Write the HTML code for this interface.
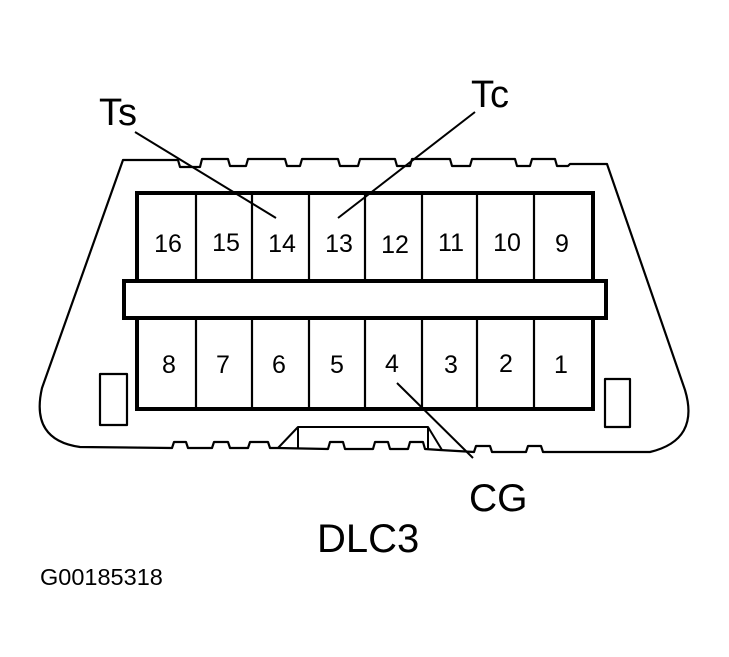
<!DOCTYPE html>
<html><head><style>
html,body{margin:0;padding:0;background:#fff;}
svg{display:block;}
text{font-family:"Liberation Sans",Arial,sans-serif;fill:#000;}
</style></head><body>
<svg width="729" height="657" viewBox="0 0 729 657" xmlns="http://www.w3.org/2000/svg">
<g fill="none" stroke="#000" stroke-width="2.2" stroke-linejoin="round">
<path d="M123,160 L178,160 L180,167 L200,167 L202,159 L228,159 L230,166 L246,166 L248,159 L285,159 L287,166 L300,166 L302,159 L338,159 L340,166 L358,166 L360,159 L395,159 L397,166 L410,166 L412,159 L450,159 L452,166 L470,166 L472,159 L515,159 L517,166 L530,166 L532,159 L555,159 L557,166 L568,166 L570,164 L607,164
 L685,390 Q700,440 650,452 L543,452 L541,446 L528,446 L526,452 L492,452 L490,446 L476,446 L474,452 L440,450 L425,449 L423,442 L410,442 L408,449 L390,449 L388,442 L375,442 L373,449 L345,449 L343,442 L330,442 L328,449 L278,448 L270,448 L268,442 L250,442 L248,448 L230,448 L228,442 L214,442 L212,448 L188,448 L186,442 L174,442 L172,448 L80,447 Q30,440 42,388 Z"/>
<path d="M278,448 L298,427 L428,427 L442,450 M298,427 L298,448 M428,427 L428,449" stroke-width="2"/>
<rect x="100" y="374" width="27" height="51"/>
<rect x="605" y="379" width="25" height="48"/>
</g>
<g fill="none" stroke="#000">
<rect x="137" y="193" width="456" height="216" stroke-width="4"/>
<rect x="124" y="281" width="482" height="37" fill="#fff" stroke-width="4"/>
<path d="M196,193V281M252,193V281M309,193V281M365,193V281M422,193V281M477,193V281M534,193V281M196,318V409M252,318V409M309,318V409M365,318V409M422,318V409M477,318V409M534,318V409" stroke-width="2.2"/>
<path d="M135,132 L276,218 M475,112 L338,218 M397,383 L473,458" stroke-width="2"/>
</g>
<g font-size="25" text-anchor="middle">
<text x="168" y="252">16</text><text x="226" y="251">15</text><text x="282" y="252">14</text><text x="339" y="252">13</text>
<text x="395" y="253">12</text><text x="451" y="251">11</text><text x="507" y="251">10</text><text x="562" y="252">9</text>
<text x="169" y="373">8</text><text x="223" y="373">7</text><text x="279" y="373">6</text><text x="337" y="373">5</text>
<text x="392" y="372">4</text><text x="451" y="373">3</text><text x="506" y="372">2</text><text x="561" y="373">1</text>
</g>
<text x="99" y="125" font-size="38">Ts</text>
<text x="471" y="107" font-size="38">Tc</text>
<text x="469" y="511" font-size="39">CG</text>
<text x="317" y="552" font-size="40">DLC3</text>
<text x="40" y="585" font-size="23.5">G00185318</text>
</svg>
</body></html>
